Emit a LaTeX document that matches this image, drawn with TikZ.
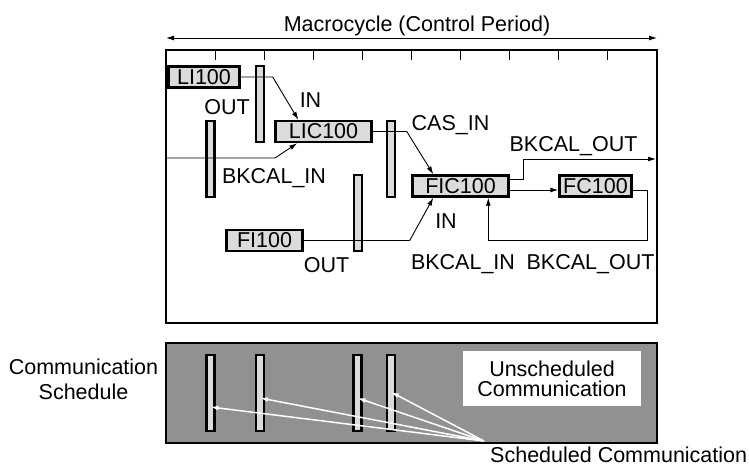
\documentclass[tikz,border=0pt]{standalone}
\usepackage{fontspec}
\setmainfont{Liberation Sans}
\usetikzlibrary{arrows.meta,calc}
\definecolor{blockgray}{gray}{0.86}
\definecolor{schedgray}{gray}{0.57}
\tikzset{
  fblock/.style={draw, line width=2.4pt, fill=blockgray, inner sep=0pt, minimum height=21pt},
  cbar/.style={draw, line width=2.2pt, fill=blockgray, inner sep=0pt, minimum width=8pt, minimum height=76pt},
  lbl/.style={anchor=base, inner sep=0pt},
  conn/.style={line width=0.9pt, -{Latex[length=8pt,width=5pt]}},
}
\begin{document}
\begin{tikzpicture}[x=1pt, y=-1pt, font=\fontsize{21.5}{25}\selectfont]
\useasboundingbox (0,0) rectangle (749,471);

\node[lbl] (title) at (417,31) {Macrocycle (Control Period)};
\draw[line width=0.9pt, {Latex[length=8pt,width=5pt]}-{Latex[length=8pt,width=5pt]}] (166,38) -- (657,38);
\draw[line width=2.8pt] (166,50) rectangle (657,323);
\foreach \i in {1,...,9}
  \draw[line width=1pt] (166+49.1*\i,50) -- ++(0,10);

\node[cbar] (ba) at (260,104) {};
\node[cbar] (bb) at (210.5,159) {};
\node[cbar] (bc) at (391,159) {};
\node[cbar] (bd) at (358,213) {};

\node[fblock, minimum width=71pt] (li) at (204,77) {LI100};
\node[fblock, minimum width=96pt] (lic) at (323.5,131.5) {LIC100};
\node[fblock, minimum width=96pt] (fic) at (460.5,186) {FIC100};
\node[fblock, minimum width=72pt] (fc) at (595.5,186) {FC100};
\node[fblock, minimum width=76pt] (fi) at (264.5,240.5) {FI100};

\coordinate (bkin) at (167,158);
\coordinate (bkout) at (656,159);

\draw[conn] (li.east) -- ($(li.east)+(32,0)$) -- ($(lic.north west)+(24,0)$);
\draw[conn] (bkin) -- (275,158) -- ($(lic.south west)+(23,0)$);
\draw[conn] (lic.east) -- ($(lic.east)+(34,0)$) -- ($(fic.north west)+(22,0)$);
\draw[conn] (fi.east) -- ($(fi.east)+(106,0)$) -- ($(fic.south west)+(22,0)$);
\draw[conn] ($(fic.east)+(0,4)$) -- ($(fc.west)+(0,4)$);
\draw[conn] ($(fic.east)+(0,-7)$) -| (523,159) -- (bkout);
\draw[conn] ($(fc.east)+(0,4)$) -| (647,240) -| ($(fic.south west)+(77,0)$);

\node[lbl] (out1) at (227,114.5) {OUT};
\node[lbl] (in1) at (310.5,107.5) {IN};
\node[lbl] (bkin1) at (274,183) {BKCAL\_IN};
\node[lbl] (casin) at (450.5,130) {CAS\_IN};
\node[lbl] (bkout1) at (573.5,151) {BKCAL\_OUT};
\node[lbl] (in2) at (446,228) {IN};
\node[lbl] (out2) at (326.5,272) {OUT};
\node[lbl] (bkin2) at (463,269) {BKCAL\_IN};
\node[lbl] (bkout2) at (590.5,269) {BKCAL\_OUT};

\draw[line width=2.8pt, fill=schedgray] (166,343) rectangle (657,443);
\node[cbar] (s1) at (210.5,393) {};
\node[cbar] (s2) at (260,393) {};
\node[cbar] (s3) at (357.5,393) {};
\node[cbar] (s4) at (391,393) {};
\node[fill=white, align=center, inner sep=0pt, minimum width=178pt, minimum height=55pt]
  (unsched) at (552,378.5) {Unscheduled\\[-5pt]Communication};
\node[align=center, inner sep=0pt] (csched) at (83.5,379) {Communication\\Schedule};

\coordinate (sc) at (484,441);
\foreach \b/\dy in {s1/14, s2/5, s3/5, s4/-1}
  \draw[white, line width=1.5pt, -{Latex[length=8pt,width=5pt]}] (sc) -- ($(\b.center)+(0,\dy)$);
\node[anchor=base west, inner sep=0pt] (schedlbl) at (490,462) {Scheduled Communication};
\end{tikzpicture}
\end{document}
